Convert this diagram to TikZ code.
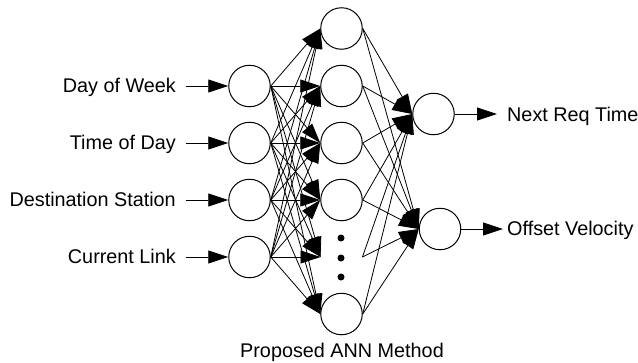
\documentclass[tikz,border=0pt]{standalone}
\usepackage{fontspec}
\setmainfont{Liberation Sans}
\usetikzlibrary{arrows.meta}
\begin{document}
\begin{tikzpicture}[x=1pt,y=-1pt,
  neuron/.style={circle,draw,line width=1pt,minimum size=41.5pt,inner sep=0pt},
  ghost/.style={circle,minimum size=41.5pt,inner sep=0pt},
  dotmark/.style={circle,fill,minimum size=7pt,inner sep=0pt},
  link/.style={line width=0.8pt,-{Triangle[length=20pt,width=13pt]}},
  lbl/.style={inner sep=0pt,font=\fontsize{19.8}{24}\selectfont}]
\useasboundingbox (0,0) rectangle (638,362);

% input layer
\foreach \i/\y in {1/86,2/143,3/200,4/257}
  \node[neuron] (in\i) at (249.5,\y) {};

% hidden layer (h5 stands for the elided units)
\foreach \j/\y in {1/28.5,2/86,3/143,4/200,6/314}
  \node[neuron] (h\j) at (341.5,\y) {};
\node[ghost] (h5) at (341.5,257) {};
\node[dotmark] (d1) at (341,238) {};
\node[dotmark] (d2) at (341,258) {};
\node[dotmark] (d3) at (341,277) {};

% output layer
\node[neuron] (o1) at (433.5,114) {};
\node[neuron] (o2) at (440,229) {};

% input labels and arrows
\node[lbl,anchor=base east] (l1) at (176,92.5) {Day of Week};
\node[lbl,anchor=base east] (l2) at (176,149.5) {Time of Day};
\node[lbl,anchor=base east] (l3) at (176,206.5) {Destination Station};
\node[lbl,anchor=base east] (l4) at (176,263.5) {Current Link};
\foreach \i/\y in {1/86,2/143,3/200,4/257}{
  \coordinate (s\i) at (186,\y);
  \draw[link] (s\i) -- (in\i.west);
}

% fully connected layers
\foreach \i in {1,...,4}
  \foreach \j in {1,...,6}
    \draw[link] (in\i.east) -- (h\j.west);
\foreach \j in {1,...,6}
  \foreach \k in {1,2}
    \draw[link] (h\j.east) -- (o\k.west);

% outputs
\coordinate (t1) at (497,114);
\coordinate (t2) at (503,229);
\draw[link] (o1.east) -- (t1);
\draw[link] (o2.east) -- (t2);
\node[lbl,anchor=base west] (r1) at (507,121) {Next Req Time};
\node[lbl,anchor=base west] (r2) at (507,235) {Offset Velocity};

% caption
\node[lbl,anchor=base] (cap) at (342,357) {Proposed ANN Method};
\end{tikzpicture}
\end{document}
